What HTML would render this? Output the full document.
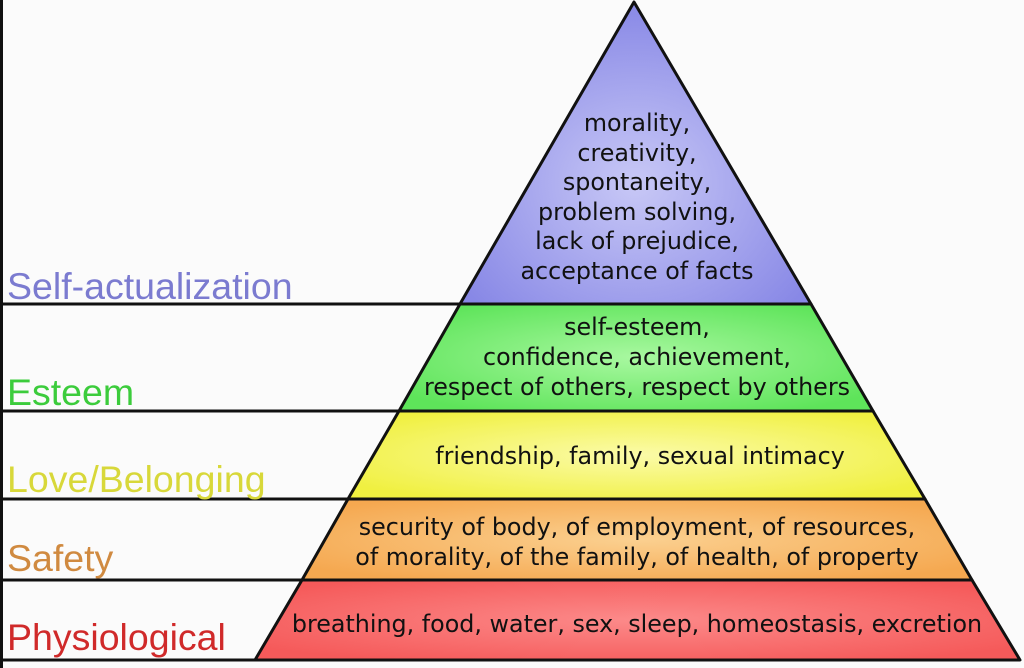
<!DOCTYPE html>
<html><head><style>
body{margin:0;width:1024px;height:668px;overflow:hidden;background:#fbfbfb;}
svg{display:block}
.l{font-family:"Liberation Sans",sans-serif;font-size:37.5px}
.t{font-family:"DejaVu Sans","Liberation Sans",sans-serif;font-size:23.8px;fill:#111;text-anchor:middle}
</style></head><body>
<svg width="1024" height="668" viewBox="0 0 1024 668">
<defs>
<radialGradient id="p" cx="0.5" cy="0.6" r="0.6"><stop offset="0" stop-color="#c8c8f6"/><stop offset="1" stop-color="#8888e6"/></radialGradient>
<radialGradient id="g" cx="0.5" cy="0.5" r="0.6"><stop offset="0" stop-color="#a8f8a0"/><stop offset="1" stop-color="#5ee45a"/></radialGradient>
<radialGradient id="y" cx="0.5" cy="0.5" r="0.6"><stop offset="0" stop-color="#fbfba8"/><stop offset="1" stop-color="#f0f040"/></radialGradient>
<radialGradient id="o" cx="0.5" cy="0.5" r="0.6"><stop offset="0" stop-color="#fbd090"/><stop offset="1" stop-color="#f5a850"/></radialGradient>
<radialGradient id="r" cx="0.5" cy="0.5" r="0.6"><stop offset="0" stop-color="#fc8a8a"/><stop offset="1" stop-color="#f55a5a"/></radialGradient>
</defs>
<rect x="0" y="0" width="3" height="668" fill="#111"/>
<g stroke="#111" stroke-width="3" stroke-linejoin="round">
<polygon points="634,2 811,304 460,304" fill="url(#p)"/>
<polygon points="460,304 811,304 873,411 399,411" fill="url(#g)"/>
<polygon points="399,411 873,411 925,499 348,499" fill="url(#y)"/>
<polygon points="348,499 925,499 972,580 302,580" fill="url(#o)"/>
<polygon points="302,580 972,580 1020,660 255,660" fill="url(#r)"/>
<line x1="0" y1="304" x2="460" y2="304"/>
<line x1="0" y1="411" x2="399" y2="411"/>
<line x1="0" y1="499" x2="348" y2="499"/>
<line x1="0" y1="580" x2="302" y2="580"/>
<line x1="0" y1="660" x2="255" y2="660"/>
</g>
<text class="l" x="7" y="299" fill="#7b7bd0">Self-actualization</text>
<text class="l" x="7" y="405" fill="#3ccc3c">Esteem</text>
<text class="l" x="7" y="492" fill="#d8d83a">Love/Belonging</text>
<text class="l" x="7" y="571" fill="#d08a40">Safety</text>
<text class="l" x="7" y="650" fill="#d02a2a">Physiological</text>
<g class="t">
<text x="637" y="131">morality,</text>
<text x="637" y="161">creativity,</text>
<text x="637" y="190">spontaneity,</text>
<text x="637" y="220">problem solving,</text>
<text x="637" y="249">lack of prejudice,</text>
<text x="637" y="279">acceptance of facts</text>
<text x="637" y="335">self-esteem,</text>
<text x="637" y="365">confidence, achievement,</text>
<text x="637" y="395">respect of others, respect by others</text>
<text x="640" y="464">friendship, family, sexual intimacy</text>
<text x="637" y="535">security of body, of employment, of resources,</text>
<text x="637" y="565">of morality, of the family, of health, of property</text>
<text x="637" y="632">breathing, food, water, sex, sleep, homeostasis, excretion</text>
</g>
</svg>
</body></html>
